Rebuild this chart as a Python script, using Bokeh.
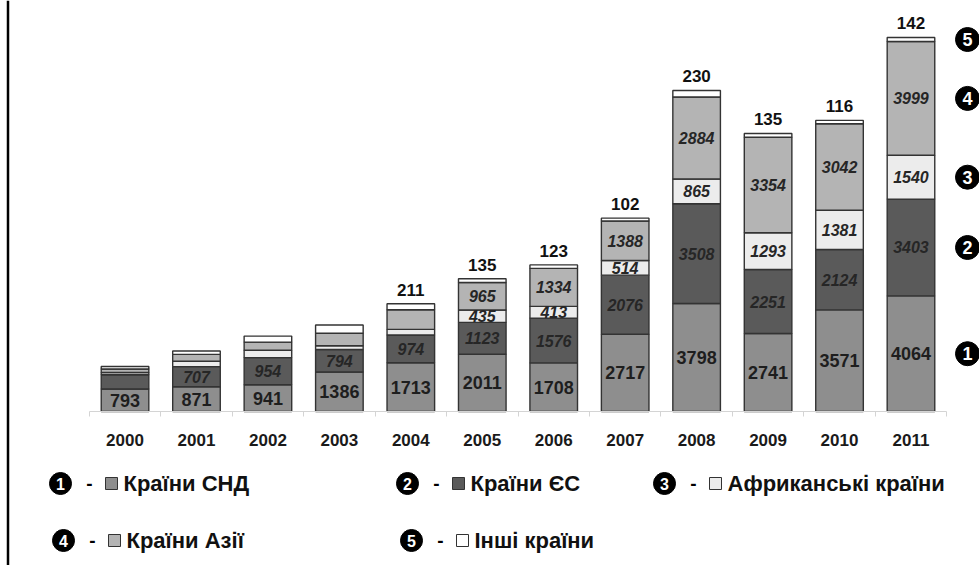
from bokeh.plotting import figure
from bokeh.models import Range1d, FixedTicker, ColumnDataSource
from bokeh.core.properties import value
from bokeh.embed import file_html
from bokeh.resources import INLINE

# ---------------- data ----------------
years = ["2000", "2001", "2002", "2003", "2004", "2005",
         "2006", "2007", "2008", "2009", "2010", "2011"]
cis = [793, 871, 941, 1386, 1713, 2011, 1708, 2717, 3798, 2741, 3571, 4064]
eu = [500, 707, 954, 794, 974, 1123, 1576, 2076, 3508, 2251, 2124, 3403]
africa = [80, 190, 260, 130, 200, 435, 413, 514, 865, 1293, 1381, 1540]
asia = [120, 240, 285, 440, 690, 965, 1334, 1388, 2884, 3354, 3042, 3999]
other = [90, 120, 210, 290, 211, 135, 123, 102, 230, 135, 116, 142]
series_names = ["Країни СНД", "Країни ЄС", "Африканські країни", "Країни Азії", "Інші країни"]
series_numbers = ["1", "2", "3", "4", "5"]
colors = ["#8e8e8e", "#5a5a5a", "#ececec", "#b4b4b4", "#ffffff"]
label_from = [0, 1, 5, 5, 4]   # first year index whose value is printed

# ---------------- layout constants ----------------
W, H = 979, 565
S = 35.155            # data units per pixel (vertical)
BASE = 411            # baseline pixel row
PXU = 71.45           # pixels per category
LEFT0 = 88.8          # pixel x of category edge -0.5
FONT = "Liberation Sans"

x_start = -0.5 - LEFT0 / PXU
x_end = x_start + W / PXU

p = figure(width=W, height=H, output_backend="svg", toolbar_location=None,
           x_range=Range1d(x_start, x_end),
           y_range=Range1d(-(H - BASE) * S, BASE * S),
           min_border=0, min_border_left=0, min_border_right=0,
           min_border_top=0, min_border_bottom=0)
p.extra_x_ranges = {"px": Range1d(0, W)}
p.extra_y_ranges = {"px": Range1d(H, 0)}
p.outline_line_color = None
p.grid.visible = False
p.yaxis.visible = False
p.background_fill_color = "white"
p.border_fill_color = "white"

xa = p.xaxis[0]
xa.ticker = FixedTicker(ticks=list(range(len(years))),
                        minor_ticks=[i - 0.5 for i in range(len(years) + 1)])
xa.major_label_overrides = {i: y for i, y in enumerate(years)}
xa.bounds = (-0.5, len(years) - 0.5)
xa.fixed_location = 0
xa.axis_line_color = "#d4d4d4"
xa.axis_line_width = 1
xa.major_tick_line_color = None
xa.major_tick_out = 0
xa.major_tick_in = 0
xa.minor_tick_line_color = "#d4d4d4"
xa.minor_tick_out = 5
xa.minor_tick_in = 0
xa.major_label_text_font = FONT
xa.major_label_text_font_size = "17px"
xa.major_label_text_font_style = "bold"
xa.major_label_text_color = "#1a1a1a"
xa.major_label_standoff = 17

# ---------------- bars ----------------
keys = ["cis", "eu", "africa", "asia", "other"]
series = [cis, eu, africa, asia, other]
src = ColumnDataSource(dict(x=list(range(len(years))), cis=cis, eu=eu,
                            africa=africa, asia=asia, other=other))
p.vbar_stack(keys, x="x", width=0.666, fill_color=colors,
             line_color="#333333", line_width=1.4, source=src)

# ---------------- value labels ----------------
bottoms = [0] * len(years)
mids_all = []
for k, vals in enumerate(series):
    mids = [b + v / 2 for b, v in zip(bottoms, vals)]
    tops = [b + v for b, v in zip(bottoms, vals)]
    mids_all.append(mids)
    idx = [i for i in range(len(years)) if i >= label_from[k]]
    txt = [str(vals[i]) for i in idx]
    if k == 0:
        p.text(x=idx, y=[mids[i] for i in idx], text=txt,
               text_font=value(FONT), text_font_size="18px",
               text_font_style="bold", text_color="#1e1e1e",
               text_align="center", text_baseline="middle")
    elif k < 4:
        p.text(x=idx, y=[mids[i] for i in idx], text=txt,
               text_font=value(FONT), text_font_size="16px",
               text_font_style="bold italic", text_color="#262626",
               text_align="center", text_baseline="middle")
    else:
        p.text(x=idx, y=[tops[i] for i in idx], text=txt,
               text_font=value(FONT), text_font_size="17px",
               text_font_style="bold", text_color="#111111",
               text_align="center", text_baseline="middle", y_offset=-14)
    bottoms = tops

# ---------------- numbered markers at the right of the last bar ----------------
last = len(years) - 1
right_y = [m[last] for m in mids_all]
p.circle(x=[967] * 5, y=right_y, radius=12, radius_units="screen",
         fill_color="black", line_color="black", x_range_name="px")
p.text(x=[967] * 5, y=right_y, text=series_numbers, x_range_name="px",
       text_font=value(FONT), text_font_size="18px", text_font_style="bold",
       text_color="white", text_align="center", text_baseline="middle")

# ---------------- legend (pixel layout) ----------------
leg_cx = [60, 407, 664, 63, 411]
leg_cy = [483, 483, 483, 540, 540]
p.circle(x=leg_cx, y=leg_cy, radius=11, radius_units="screen",
         fill_color="black", line_color="black",
         x_range_name="px", y_range_name="px")
p.text(x=leg_cx, y=leg_cy, text=series_numbers, x_range_name="px", y_range_name="px",
       text_font=value(FONT), text_font_size="16px", text_font_style="bold",
       text_color="white", text_align="center", text_baseline="middle")
p.text(x=[c + 29 for c in leg_cx], y=leg_cy, text=["-"] * 5,
       x_range_name="px", y_range_name="px",
       text_font=value(FONT), text_font_size="19px", text_font_style="bold",
       text_color="black", text_align="center", text_baseline="middle")
p.rect(x=[c + 51 for c in leg_cx], y=leg_cy, width=12, height=12,
       width_units="screen", height_units="screen",
       fill_color=colors, line_color="#333333", line_width=1,
       x_range_name="px", y_range_name="px")
p.text(x=[c + 63 for c in leg_cx], y=leg_cy, text=series_names,
       x_range_name="px", y_range_name="px",
       text_font=value(FONT), text_font_size="22px", text_font_style="bold",
       text_color="#111111", text_align="left", text_baseline="middle")

# left frame line
p.segment(x0=[7.5], y0=[0], x1=[7.5], y1=[H], line_color="black", line_width=2.5,
          x_range_name="px", y_range_name="px")

open("out.html", "w").write(file_html(p, INLINE))
